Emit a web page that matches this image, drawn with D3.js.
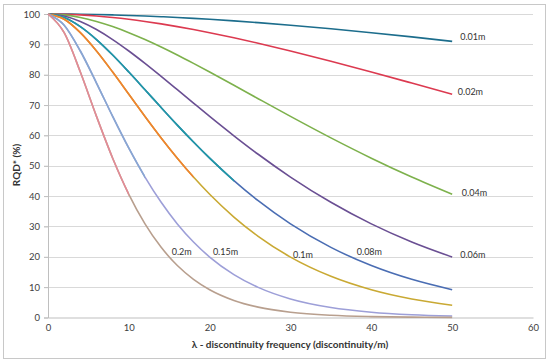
<!DOCTYPE html>
<html>
<head>
<meta charset="utf-8">
<script src="https://cdn.jsdelivr.net/npm/d3@7"></script>
<style>
  html, body { margin: 0; padding: 0; background: #fff; }
  svg { display: block; font-family: Lato, "Open Sans", sans-serif; }
</style>
</head>
<body>
<svg id="chart" width="550" height="364"></svg>
<script>
// ---- data ----
const lambda = [0, 2, 4, 6, 8, 10, 12, 14, 16, 18, 20, 23, 26, 30, 35, 40, 45, 50];

const seriesNames = ["0.01m", "0.02m", "0.04m", "0.06m", "0.08m", "0.1m", "0.15m", "0.2m"];

const rqd001 = [100, 99.98, 99.92, 99.83, 99.70, 99.53, 99.34, 99.11, 98.85, 98.56, 98.25, 97.73, 97.15, 96.31, 95.13, 93.84, 92.46, 90.98];
const rqd002 = [100, 99.92, 99.70, 99.34, 98.85, 98.25, 97.54, 96.74, 95.85, 94.88, 93.84, 92.17, 90.37, 87.81, 84.42, 80.88, 77.25, 73.58];
const rqd004 = [100, 99.70, 98.85, 97.54, 95.85, 93.84, 91.58, 89.11, 86.48, 83.72, 80.88, 76.52, 72.10, 66.26, 59.18, 52.49, 46.28, 40.60];
const rqd006 = [100, 99.34, 97.54, 94.88, 91.58, 87.81, 83.72, 79.43, 75.05, 70.64, 66.26, 59.88, 53.79, 46.28, 37.96, 30.84, 24.87, 19.91];
const rqd008 = [100, 98.85, 95.85, 91.58, 86.48, 80.88, 75.05, 69.17, 63.39, 57.81, 52.49, 45.10, 38.48, 30.84, 23.11, 17.12, 12.57, 9.16];
const rqd010 = [100, 98.25, 93.84, 87.81, 80.88, 73.58, 66.26, 59.18, 52.49, 46.28, 40.60, 33.09, 26.74, 19.91, 13.59, 9.16, 6.11, 4.04];
const rqd015 = [100, 96.31, 87.81, 77.25, 66.26, 55.78, 46.28, 37.96, 30.84, 24.87, 19.91, 14.13, 9.92, 6.11, 3.28, 1.74, 0.91, 0.47];
const rqd020 = [100, 93.84, 80.88, 66.26, 52.49, 40.60, 30.84, 23.11, 17.12, 12.57, 9.16, 5.63, 3.42, 1.74, 0.73, 0.30, 0.12, 0.05];

// lambda at which the line colour changes (null = single colour)
const colourSplit = [null, null, null, null, 23, 18, 12, 10];

// label anchor points in data units [lambda, RQD]
const labelLambda = [51.0, 50.7, 51.2, 51.0, 38.2, 30.3, 20.4, 15.3];
const labelRqd    = [92.4, 74.3, 41.0, 20.6, 21.6, 20.6, 21.6, 21.6];

const xTicks = [0, 10, 20, 30, 40, 50, 60];
const yTicks = [0, 10, 20, 30, 40, 50, 60, 70, 80, 90, 100];

// ---- styles ----
const colourA = ["#1c6d8c", "#dc3a50", "#7db14c", "#6a4f93", "#1f9aa6", "#f0822f", "#88a7d2", "#e38b96"];
const colourB = [null, null, null, null, "#4a6db3", "#c9a933", "#9d9fd8", "#b89f8e"];

const allSeries = [rqd001, rqd002, rqd004, rqd006, rqd008, rqd010, rqd015, rqd020];

const svg = d3.select("#chart");

// outer frame
svg.append("rect")
  .attr("x", 3.5).attr("y", 4.5).attr("width", 542).attr("height", 354)
  .attr("fill", "none").attr("stroke", "#c8c8c8").attr("stroke-width", 1);

const x = d3.scaleLinear().domain([0, 60]).range([48, 533]);
const y = d3.scaleLinear().domain([0, 100]).range([317.5, 14]);

// gridlines
svg.append("g")
  .selectAll("line")
  .data(yTicks.filter(d => d > 0))
  .join("line")
  .attr("x1", x(0) - 4).attr("x2", x(60))
  .attr("y1", d => Math.round(y(d)) + 0.5).attr("y2", d => Math.round(y(d)) + 0.5)
  .attr("stroke", "#d9d9d9").attr("stroke-width", 1);

// y axis
const yAxis = d3.axisLeft(y).tickValues(yTicks).tickSize(4).tickPadding(4);
const gy = svg.append("g").attr("transform", `translate(${x(0)},0)`).call(yAxis);
gy.select(".domain").attr("stroke", "#bfbfbf");
gy.selectAll(".tick line").attr("stroke", "#bfbfbf");
gy.selectAll(".tick text").attr("fill", "#404040").style("font-size", "9.5px").style("font-family", "Lato, sans-serif");

// x axis
const xAxis = d3.axisBottom(x).tickValues(xTicks).tickSize(0).tickPadding(7);
const gx = svg.append("g").attr("transform", `translate(0,${y(0)})`).call(xAxis);
gx.select(".domain").attr("stroke", "#bfbfbf");
gx.selectAll(".tick text").attr("fill", "#404040").style("font-size", "9.5px").style("font-family", "Lato, sans-serif");

// lines
const line = d3.line().x(d => x(d[0])).y(d => y(d[1])).curve(d3.curveMonotoneX);

allSeries.forEach((vals, i) => {
  const pts = lambda.map((l, j) => [l, vals[j]]);
  const split = colourSplit[i];
  if (split == null) {
    svg.append("path").attr("d", line(pts)).attr("fill", "none")
      .attr("stroke", colourA[i]).attr("stroke-width", 1.6);
  } else {
    // draw the full curve in second colour, then overlay the first part
    svg.append("path").attr("d", line(pts)).attr("fill", "none")
      .attr("stroke", colourB[i]).attr("stroke-width", 1.6);
    const clipId = "clip" + i;
    svg.append("clipPath").attr("id", clipId).append("rect")
      .attr("x", 0).attr("y", 0).attr("width", x(split)).attr("height", 364);
    svg.append("path").attr("d", line(pts)).attr("fill", "none")
      .attr("clip-path", `url(#${clipId})`)
      .attr("stroke", colourA[i]).attr("stroke-width", 1.6);
  }
});

// series labels
svg.append("g").selectAll("text")
  .data(seriesNames)
  .join("text")
  .attr("x", (d, i) => x(labelLambda[i]))
  .attr("y", (d, i) => y(labelRqd[i]))
  .attr("dy", "0.35em")
  .attr("fill", "#333")
  .style("font-size", "9px")
  .text(d => d);

// axis titles
svg.append("text")
  .attr("x", 290).attr("y", 348)
  .attr("text-anchor", "middle")
  .attr("fill", "#333")
  .style("font-size", "10px").style("font-weight", "bold")
  .text("λ - discontinuity frequency (discontinuity/m)");

svg.append("text")
  .attr("transform", "translate(20,165) rotate(-90)")
  .attr("text-anchor", "middle")
  .attr("fill", "#333")
  .style("font-size", "10px").style("font-weight", "bold")
  .text("RQD* (%)");
</script>
</body>
</html>
